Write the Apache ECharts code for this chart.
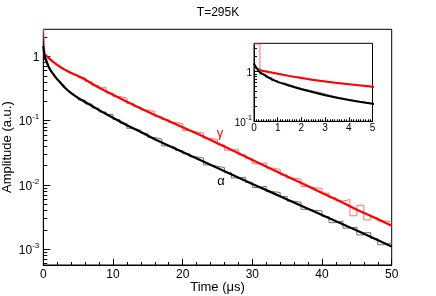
<!DOCTYPE html>
<html><head><meta charset="utf-8">
<script src="https://cdn.jsdelivr.net/npm/echarts@6/dist/echarts.min.js"></script>
<style>html,body{margin:0;padding:0;background:#fff}#c{width:436px;height:296px}</style>
</head><body><div id="c"></div>
<script>
// ---------- data ----------
const chartTitle = 'T=295K';
const xTitle = 'Time (μs)';
const yTitle = 'Amplitude (a.u.)';

// histogram bin edges (μs)
const binEdges = [0,0.25,0.5,0.75,1,1.25,1.5,1.75,2,2.25,2.5,2.75,3,3.25,3.5,3.75,4,4.25,4.5,4.75,5,
  6,7,8,9,10,11,12,13,14,15,16,17,18,19,20,21,22,23,24,25,26,27,28,29,30,
  31,32,33,34,35,36,37,38,39,40,41,42,43,44,45,46,47,48,49,50];

const gammaHist = [3.55,1.03,0.975,0.925,0.877,0.832,0.792,0.77,0.725,0.695,0.667,0.642,0.62,0.6,0.58,0.56,0.543,0.53,0.525,0.506,
  0.466,0.407,0.352,0.326,0.270,0.238,0.225,0.185,0.164,0.146,
  0.139,0.1165,0.1045,0.0935,0.090,0.0703,0.067,0.064,0.0532,0.0505,
  0.042,0.0347,0.0354,0.0294,0.026,0.0213,0.0221,0.0182,0.0174,0.0143,
  0.0127,0.0123,0.0094,0.009,0.0088,0.0074,0.0063,0.0056,0.0059,0.0033,
  0.0048,0.00285,0.0031,0.00275,0.00264];

const alphaHist = [1.15,0.885,0.757,0.658,0.597,0.545,0.498,0.459,0.43,0.405,0.38,0.355,0.327,0.307,0.29,0.275,0.262,0.25,0.24,0.23,
  0.21,0.182,0.157,0.1365,0.125,0.104,0.091,0.076,0.071,0.0637,
  0.0548,0.0518,0.0405,0.0385,0.0343,0.0306,0.0274,0.0262,0.0205,0.0195,
  0.0186,0.0155,0.0128,0.0132,0.011,0.0091,0.0095,0.00785,0.0076,0.0066,
  0.00558,0.00535,0.00416,0.004,0.00394,0.00321,0.00258,0.00275,0.00212,0.0022,
  0.00166,0.0018,0.00146,0.00117,0.00125];

// fitted curves
const gammaFitT = [0.25,0.5,1,1.5,2,2.5,3,3.5,4,4.5,5,5.5,6,7,8,9,10,11,12,14,16,18,20,22.5,25,27.5,30,32.5,35,37.5,40,42.5,45,47.5,50];
const gammaFitV = [1.06,1.0,0.90,0.81,0.74,0.68,0.63,0.59,0.553,0.523,0.495,0.465,0.437,0.375,0.325,0.287,0.253,0.223,0.197,0.155,0.123,0.099,0.079,0.060,0.0445,0.0331,0.0245,0.0182,0.0135,0.0101,0.0075,0.0056,0.0041,0.0031,0.0023];
const alphaFitT = [0,0.1,0.25,0.5,0.75,1,1.25,1.5,1.75,2,2.5,3,3.5,4,4.5,5,5.5,6,7,8,9,10,11,12,14,16,18,20,22.5,25,27.5,30,32.5,35,37.5,40,42.5,45,47.5,50];
const alphaFitV = [1.45,1.18,0.96,0.82,0.70,0.62,0.565,0.52,0.478,0.44,0.385,0.335,0.298,0.268,0.245,0.226,0.21,0.195,0.169,0.146,0.127,0.111,0.097,0.085,0.0668,0.0513,0.0407,0.0324,0.0245,0.0184,0.0138,0.01035,0.00785,0.0059,0.00447,0.00339,0.00257,0.00195,0.00146,0.0011];

// ticks
const yMajorTicks = [0.001,0.01,0.1,1];
const yMinorTicks = [0.0006,0.0007,0.0008,0.0009,0.002,0.003,0.004,0.005,0.006,0.007,0.008,0.009,
  0.02,0.03,0.04,0.05,0.06,0.07,0.08,0.09,0.2,0.3,0.4,0.5,0.6,0.7,0.8,0.9,2];
const insetYMajor = [0.1,1];
const insetYMinor = [0.2,0.3,0.4,0.5,0.6,0.7,0.8,0.9,2,3];

// ---------- chart ----------
const FONT = '"Liberation Sans", Arial, Helvetica, sans-serif';
const RED = '#ff0000', REDH = '#ff7070', BLK = '#000000', GRAYH = '#707070';

function toStep(edges, vals) {
  const pts = [];
  for (let i = 0; i < vals.length; i++) { pts.push([edges[i], vals[i]]); pts.push([edges[i + 1], vals[i]]); }
  return pts;
}
function pairs(t, v) { return t.map((x, i) => [x, v[i]]); }
function supLabel(v) {
  const e = Math.round(Math.log10(v));
  return e === 0 ? '{b|1}' : '{b|10}{s|' + e + '}';
}
function rich(fs, ss) {
  return { b: { fontSize: fs, fontFamily: FONT, color: '#000', lineHeight: fs + 3, verticalAlign: 'bottom' },
           s: { fontSize: ss, fontFamily: FONT, color: '#000', lineHeight: ss, verticalAlign: 'top' } };
}

const chart = echarts.init(document.getElementById('c'), null, { renderer: 'canvas' });
const mainMin = 5.65e-4, mainMax = 2.65, insetMin = 0.1, insetMax = 3.7;

const tickLine = { lineStyle: { color: '#000', width: 1 } };

function histSeries(xi, yi, vals, color, z) {
  return { type: 'line', xAxisIndex: xi, yAxisIndex: yi, data: toStep(binEdges, vals), showSymbol: false, clip: true,
    lineStyle: { color: color, width: 1 }, z: z };
}
function fitSeries(xi, yi, t, v, color, w, z) {
  return { type: 'line', xAxisIndex: xi, yAxisIndex: yi, data: pairs(t, v), showSymbol: false, clip: true,
    smooth: false, lineStyle: { color: color, width: w, join: 'round' }, z: z };
}

const option = {
  animation: false,
  backgroundColor: '#fff',
  title: { text: chartTitle, left: 'center', top: 2,
    textStyle: { fontFamily: FONT, fontSize: 12, fontWeight: 'normal', color: '#000' } },
  grid: [
    { left: 43.3, top: 29.3, right: 44.3, bottom: 31, show: true, borderColor: '#000', borderWidth: 1, backgroundColor: 'transparent',
      containLabel: false, outerBoundsMode: 'none' },
    { left: 254, top: 43.3, width: 118.5, height: 78, show: true, borderColor: '#000', borderWidth: 1, backgroundColor: '#fff', z: 5,
      containLabel: false, outerBoundsMode: 'none' }
  ],
  xAxis: [
    { type: 'value', gridIndex: 0, min: 0, max: 50, interval: 10,
      axisLine: tickLine, axisTick: Object.assign({ inside: true, length: 6 }, tickLine),
      minorTick: Object.assign({ show: true, splitNumber: 5, length: 3 }, tickLine),
      splitLine: { show: false }, minorSplitLine: { show: false },
      axisLabel: { margin: 4, fontSize: 12, color: '#000', fontFamily: FONT },
      name: xTitle, nameLocation: 'middle', nameGap: 16, nameMoveOverlap: false,
      nameTextStyle: { fontFamily: FONT, fontSize: 13, color: '#000' } },
    { type: 'value', gridIndex: 1, min: 0, max: 5, interval: 1, z: 6,
      axisLine: tickLine, axisTick: Object.assign({ inside: true, length: 4 }, tickLine),
      minorTick: Object.assign({ show: true, splitNumber: 10, length: 2 }, tickLine),
      splitLine: { show: false }, minorSplitLine: { show: false },
      axisLabel: { margin: 2, fontSize: 10, color: '#000', fontFamily: FONT } }
  ],
  yAxis: [
    { type: 'log', gridIndex: 0, min: mainMin, max: mainMax,
      axisLine: tickLine,
      axisTick: Object.assign({ inside: true, length: 7, customValues: yMajorTicks }, tickLine),
      splitLine: { show: false },
      axisLabel: { margin: 4, customValues: yMajorTicks, formatter: supLabel, rich: rich(12, 8) },
      name: yTitle, nameLocation: 'middle', nameGap: 29, nameMoveOverlap: false,
      nameTextStyle: { fontFamily: FONT, fontSize: 13, color: '#000' } },
    { type: 'log', gridIndex: 0, min: mainMin, max: mainMax, position: 'left',
      axisLine: { show: false },
      axisTick: Object.assign({ inside: true, length: 4, customValues: yMinorTicks }, tickLine),
      splitLine: { show: false }, axisLabel: { show: false } },
    { type: 'log', gridIndex: 1, min: insetMin, max: insetMax, z: 6,
      axisLine: tickLine,
      axisTick: Object.assign({ inside: true, length: 5, customValues: insetYMajor }, tickLine),
      splitLine: { show: false },
      axisLabel: { margin: 2, customValues: insetYMajor, formatter: supLabel, rich: rich(10, 7) } },
    { type: 'log', gridIndex: 1, min: insetMin, max: insetMax, position: 'left', z: 6,
      axisLine: { show: false },
      axisTick: Object.assign({ inside: true, length: 3, customValues: insetYMinor }, tickLine),
      splitLine: { show: false }, axisLabel: { show: false } }
  ],
  series: [
    histSeries(0, 0, gammaHist, REDH, 2),
    histSeries(0, 0, alphaHist, GRAYH, 2),
    fitSeries(0, 0, gammaFitT, gammaFitV, RED, 2.2, 3),
    fitSeries(0, 0, alphaFitT, alphaFitV, BLK, 2.2, 3),
    histSeries(1, 2, gammaHist, REDH, 7),
    histSeries(1, 2, alphaHist, GRAYH, 7),
    fitSeries(1, 2, gammaFitT, gammaFitV, RED, 2, 8),
    fitSeries(1, 2, alphaFitT, alphaFitV, BLK, 2, 8)
  ],
  graphic: [
    { type: 'text', x: 220, y: 133, z: 10, style: { text: 'γ', fill: RED, fontSize: 13, fontFamily: FONT, align: 'center', verticalAlign: 'middle' } },
    { type: 'text', x: 221, y: 181, z: 10, style: { text: 'α', fill: BLK, fontSize: 13, fontFamily: FONT, align: 'center', verticalAlign: 'middle' } }
  ]
};
chart.setOption(option);
</script>
</body></html>
